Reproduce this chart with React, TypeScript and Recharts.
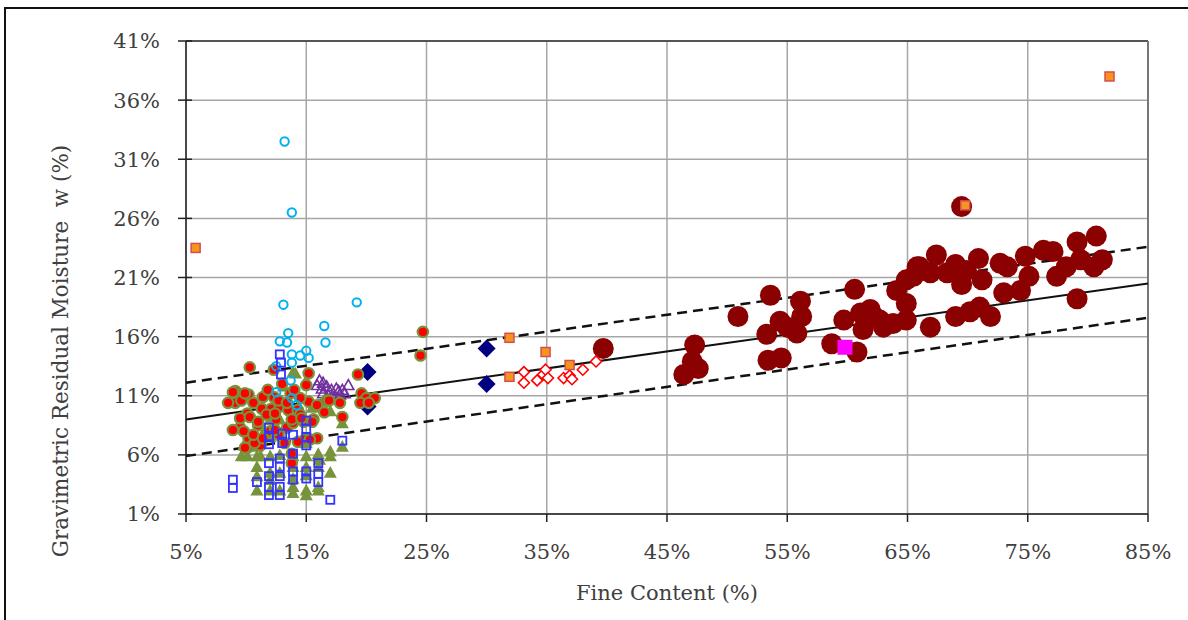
import { ScatterChart, Scatter, XAxis, YAxis, CartesianGrid, ReferenceLine } from 'recharts';

// tick values (percent)
const xTicks = [5, 15, 25, 35, 45, 55, 65, 75, 85];
const yTicks = [1, 6, 11, 16, 21, 26, 31, 36, 41];

// fit line and +/- band, end points at 5% and 85%
const fitMid: [number, number][] = [[5, 9.0], [85, 20.5]];
const fitUpper: [number, number][] = [[5, 12.1], [85, 23.6]];
const fitLower: [number, number][] = [[5, 5.9], [85, 17.6]];

// [fine content %, moisture %]
const darkRedCircles: [number, number][] = [
  [39.7, 15.0], [47.3, 15.3], [47.1, 13.9], [47.6, 13.3], [46.4, 12.8], [50.9, 17.7], [53.6, 19.5],
  [53.3, 16.2], [53.4, 14.0], [54.5, 14.2], [54.4, 17.3], [56.1, 19.0], [56.2, 17.7], [55.8, 16.3],
  [55.0, 16.8], [60.6, 20.0], [58.7, 15.4], [60.8, 14.7], [59.7, 17.4], [61.1, 18.0], [61.9, 18.3],
  [62.2, 17.7], [61.3, 16.6], [62.7, 17.4], [63.8, 17.1], [63.0, 16.8], [64.1, 19.9], [64.9, 20.8],
  [64.9, 18.8], [65.8, 21.9], [64.9, 17.4], [69.5, 27.0], [66.0, 21.9], [65.5, 21.1], [67.4, 22.9],
  [66.9, 21.4], [68.3, 21.4], [69.0, 22.1], [69.5, 20.4], [69.9, 21.6], [70.9, 22.6], [71.2, 20.8],
  [72.7, 22.2], [73.3, 21.9], [73.0, 19.7], [74.4, 19.9], [74.8, 22.8], [75.1, 21.1], [76.3, 23.3],
  [77.1, 23.2], [77.4, 21.1], [78.2, 21.9], [79.1, 24.0], [79.1, 19.2], [80.7, 24.5], [81.2, 22.5],
  [80.5, 21.9], [79.4, 22.5], [66.9, 16.8], [69.0, 17.7], [70.2, 18.1], [71.0, 18.5], [71.9, 17.7],
];
const navyDiamonds: [number, number][] = [[30.0, 15.0], [30.0, 12.0], [20.1, 13.0], [20.1, 10.1]];
const redOpenDiamonds: [number, number][] = [
  [33.1, 13.0], [33.1, 12.1], [34.2, 12.3], [34.7, 12.8], [34.9, 13.2], [35.1, 12.5],
  [36.4, 12.5], [36.9, 12.7], [37.1, 12.4], [38.0, 13.2], [39.1, 13.9],
];
const greenTriangles: [number, number][] = [
  [9.6, 5.9], [10.9, 5.9], [10.9, 5.0], [10.9, 3.0], [12.0, 5.9], [12.8, 6.0], [13.9, 5.0], [13.9, 3.3],
  [13.9, 2.8], [15.0, 5.9], [15.0, 5.0], [15.0, 3.0], [15.0, 2.6], [17.0, 6.3], [16.0, 3.0], [18.0, 6.7],
  [18.0, 8.7], [15.0, 12.3], [13.9, 13.0], [13.1, 11.8], [12.8, 9.0], [12.0, 9.0], [16.0, 5.9], [10.9, 6.7],
  [10.9, 4.2], [12.0, 3.9], [13.9, 5.9], [15.0, 4.3], [16.0, 5.0], [16.0, 3.3], [17.0, 5.9], [17.0, 9.7],
  [16.0, 6.1], [14.1, 12.9], [10.1, 5.9], [11.2, 5.9], [16.1, 5.6], [12.0, 3.0], [12.0, 4.5], [12.8, 3.0],
  [12.8, 4.5], [13.9, 4.0], [15.0, 7.0], [12.0, 7.5], [10.3, 7.0], [11.5, 8.0], [14.0, 9.5], [15.5, 10.0],
  [13.0, 10.5], [17.0, 4.5], [9.8, 6.8],
];
const purpleTriangles: [number, number][] = [
  [16.1, 12.3], [16.4, 12.1], [15.9, 11.9], [16.7, 11.8], [17.1, 11.5], [17.5, 11.6], [18.0, 11.5], [18.2, 11.2],
  [18.5, 11.9], [17.8, 11.1], [17.3, 10.9], [16.4, 11.2], [16.8, 11.1], [16.3, 11.6], [17.7, 11.4],
];
const redGreenCircles: [number, number][] = [
  [10.3, 13.4], [9.1, 11.4], [9.5, 11.1], [10.2, 11.1], [9.1, 10.4], [9.6, 10.6], [10.1, 9.5], [10.6, 10.4],
  [11.3, 9.9], [12.1, 9.9], [12.8, 10.1], [13.5, 9.8], [14.3, 9.8], [15.2, 10.5], [15.9, 10.2], [16.7, 10.6],
  [17.8, 10.4], [18.0, 9.2], [9.5, 8.3], [10.2, 7.4], [10.1, 6.6], [11.0, 8.5], [11.2, 6.8], [12.5, 9.0],
  [12.7, 7.7], [13.4, 8.3], [13.9, 8.7], [14.5, 9.4], [14.9, 7.3], [11.7, 9.4], [11.4, 10.9], [12.3, 10.9],
  [13.7, 11.2], [14.5, 10.8], [12.3, 13.2], [19.3, 12.8], [19.6, 11.2], [20.0, 10.8], [20.7, 10.8], [19.5, 10.4],
  [20.2, 10.4], [13.8, 5.3], [24.7, 16.4], [24.5, 14.4], [15.2, 12.9], [16.9, 10.6], [15.9, 7.4], [8.9, 11.3],
  [8.5, 10.4], [8.9, 8.1], [9.9, 6.6], [10.7, 7.0], [15.0, 11.9], [11.8, 11.5], [13.0, 12.0], [14.0, 11.5],
  [12.0, 8.0], [13.2, 7.0], [14.8, 8.8], [15.6, 9.0], [16.5, 9.6], [9.9, 11.2], [12.7, 10.6], [13.4, 10.4],
  [9.5, 9.1], [10.3, 9.2], [11.0, 8.8], [12.4, 9.5], [13.8, 9.0], [14.6, 9.1], [15.5, 8.8], [9.8, 8.0],
  [10.6, 7.7], [11.4, 7.4], [12.4, 8.1], [14.3, 7.1], [15.3, 7.3], [13.8, 6.1],
];
const cyanCircles: [number, number][] = [
  [13.2, 32.5], [13.8, 26.5], [13.1, 18.7], [19.2, 18.9], [16.5, 16.9], [16.6, 15.5], [13.5, 16.3],
  [12.8, 15.6], [13.4, 15.5], [13.8, 14.5], [14.5, 14.4], [15.0, 14.8], [15.2, 14.2], [13.8, 13.8],
  [12.5, 13.5], [13.7, 12.3], [12.5, 11.3], [13.8, 10.8], [14.2, 10.2],
];
const blueSquares: [number, number][] = [
  [12.8, 14.5], [12.9, 13.8], [12.9, 12.8], [8.9, 3.9], [8.9, 3.2], [10.9, 3.7], [11.9, 8.3], [11.9, 7.5],
  [11.9, 6.9], [13.0, 7.8], [13.0, 7.0], [13.9, 7.7], [15.0, 8.9], [15.0, 8.2], [15.0, 7.5], [15.0, 6.8],
  [18.0, 7.2], [11.9, 5.3], [12.8, 5.7], [12.8, 5.0], [12.8, 4.2], [12.8, 3.3], [12.8, 2.6], [11.9, 4.2],
  [11.9, 3.3], [11.9, 2.6], [13.9, 6.1], [13.9, 4.6], [13.9, 3.9], [15.0, 4.6], [15.0, 4.0], [16.0, 5.3],
  [16.0, 4.4], [16.0, 3.7], [17.0, 2.2],
];
const orangeSquares: [number, number][] = [
  [5.8, 23.5], [31.9, 15.9], [31.9, 12.6], [34.9, 14.7], [36.9, 13.6], [69.8, 27.1], [81.8, 38.0],
];
const magentaSquares: [number, number][] = [[59.8, 15.1]];

const pts = (arr: [number, number][]) => arr.map(([x, y]) => ({ x, y }));

const FONT = 'DejaVu Serif';
const TEXT = '#404040';

const noMark = () => <g />;
const circle = (r: number, fill: string, stroke = 'none', sw = 0) => (p: any) =>
  <circle cx={p.cx} cy={p.cy} r={r} fill={fill} stroke={stroke} strokeWidth={sw} />;
const square = (s: number, fill: string, stroke = 'none', sw = 0) => (p: any) =>
  <rect x={p.cx - s / 2} y={p.cy - s / 2} width={s} height={s} fill={fill} stroke={stroke} strokeWidth={sw} />;
const diamond = (h: number, fill: string, stroke = 'none', sw = 0) => (p: any) =>
  <polygon points={`${p.cx},${p.cy - h} ${p.cx + h},${p.cy} ${p.cx},${p.cy + h} ${p.cx - h},${p.cy}`}
    fill={fill} stroke={stroke} strokeWidth={sw} />;
const triangle = (h: number, fill: string, stroke = 'none', sw = 0) => (p: any) =>
  <polygon points={`${p.cx},${p.cy - h} ${p.cx + h},${p.cy + h * 0.8} ${p.cx - h},${p.cy + h * 0.8}`}
    fill={fill} stroke={stroke} strokeWidth={sw} strokeLinejoin="miter" />;

const YTick = (props: any) => {
  const { x, y, payload } = props;
  return (
    <g>
      <line x1={x + 18} x2={x + 32} y1={y} y2={y} stroke="#222" strokeWidth={1.5} />
      <text x={x} y={y} dy="0.355em" textAnchor="end" fill={TEXT} fontSize={21} fontFamily={FONT}>
        {payload.value}%
      </text>
    </g>
  );
};

const XTitle = (props: any) => {
  const vb = props.viewBox || { x: 186, y: 514, width: 962 };
  return (
    <text x={vb.x + vb.width / 2} y={vb.y + 86} textAnchor="middle" fill={TEXT} fontSize={21} fontFamily={FONT}>
      Fine Content (%)
    </text>
  );
};

const YTitle = (props: any) => {
  const vb = props.viewBox || { x: 126, y: 41, height: 473 };
  const cx = vb.x - 66;
  const cy = vb.y + 310;
  return (
    <text x={cx} y={cy} transform={`rotate(-90 ${cx} ${cy})`} textAnchor="middle" dominantBaseline="central"
      fill={TEXT} fontSize={21.5} fontFamily={FONT} style={{ whiteSpace: 'pre' }}>
      {'Gravimetric Residual Moisture  w (%)'}
    </text>
  );
};

export default function App() {
  return (
    <div style={{ position: 'fixed', left: 0, top: 0, width: 1188, height: 620, overflow: 'hidden', background: '#fff' }}>
      <div style={{ position: 'absolute', left: 0, top: 0 }}>
        <ScatterChart width={1188} height={620} margin={{ top: 41, right: 40, bottom: 56, left: 126 }}>
          <CartesianGrid stroke="#a6a6a6" strokeWidth={1.5} />
          <XAxis type="number" dataKey="x" domain={[5, 85]} ticks={xTicks} tickFormatter={(v) => `${v}%`}
            axisLine={{ stroke: '#222', strokeWidth: 1.5 }} tickLine={{ stroke: '#222', strokeWidth: 1.5 }}
            tickSize={8} tickMargin={22} height={50}
            tick={{ fill: TEXT, fontSize: 21, fontFamily: FONT }} label={{ content: XTitle }} />
          <YAxis type="number" dataKey="y" domain={[1, 41]} ticks={yTicks} width={60}
            axisLine={{ stroke: '#222', strokeWidth: 1.5 }} tickLine={false} tickSize={8} tickMargin={18}
            tick={YTick} label={{ content: YTitle }} />
          <ReferenceLine y={41} stroke="#333" strokeWidth={1.5} />
          <ReferenceLine x={85} stroke="#777" strokeWidth={2} />

          <Scatter data={pts(fitUpper)} line={{ stroke: '#111', strokeWidth: 2.5, strokeDasharray: '10 6' }} shape={noMark} isAnimationActive={false} />
          <Scatter data={pts(fitLower)} line={{ stroke: '#111', strokeWidth: 2.5, strokeDasharray: '10 6' }} shape={noMark} isAnimationActive={false} />
          <Scatter data={pts(fitMid)} line={{ stroke: '#111', strokeWidth: 2 }} shape={noMark} isAnimationActive={false} />

          <Scatter data={pts(darkRedCircles)} shape={circle(10.5, '#8b0000')} isAnimationActive={false} />
          <Scatter data={pts(navyDiamonds)} shape={diamond(9, '#000080')} isAnimationActive={false} />
          <Scatter data={pts(redOpenDiamonds)} shape={diamond(5.5, '#fff', '#ff0000', 1.6)} isAnimationActive={false} />
          <Scatter data={pts(greenTriangles)} shape={triangle(6.5, '#77933c')} isAnimationActive={false} />
          <Scatter data={pts(purpleTriangles)} shape={triangle(5.5, 'none', '#7030a0', 1.6)} isAnimationActive={false} />
          <Scatter data={pts(redGreenCircles)} shape={circle(5.2, '#ff0000', '#77933c', 2.2)} isAnimationActive={false} />
          <Scatter data={pts(cyanCircles)} shape={circle(4.2, 'none', '#00b0f0', 2)} isAnimationActive={false} />
          <Scatter data={pts(blueSquares)} shape={square(8, 'none', '#3333ff', 1.8)} isAnimationActive={false} />
          <Scatter data={pts(orangeSquares)} shape={square(9, '#f7941d', '#d0504d', 1.5)} isAnimationActive={false} />
          <Scatter data={pts(magentaSquares)} shape={square(15, '#ff00ff')} isAnimationActive={false} />
        </ScatterChart>
      </div>
      <div style={{ position: 'absolute', left: 4, top: 7, width: 1300, height: 800, borderLeft: '2px solid #111', borderTop: '2px solid #111', pointerEvents: 'none' }} />
    </div>
  );
}
